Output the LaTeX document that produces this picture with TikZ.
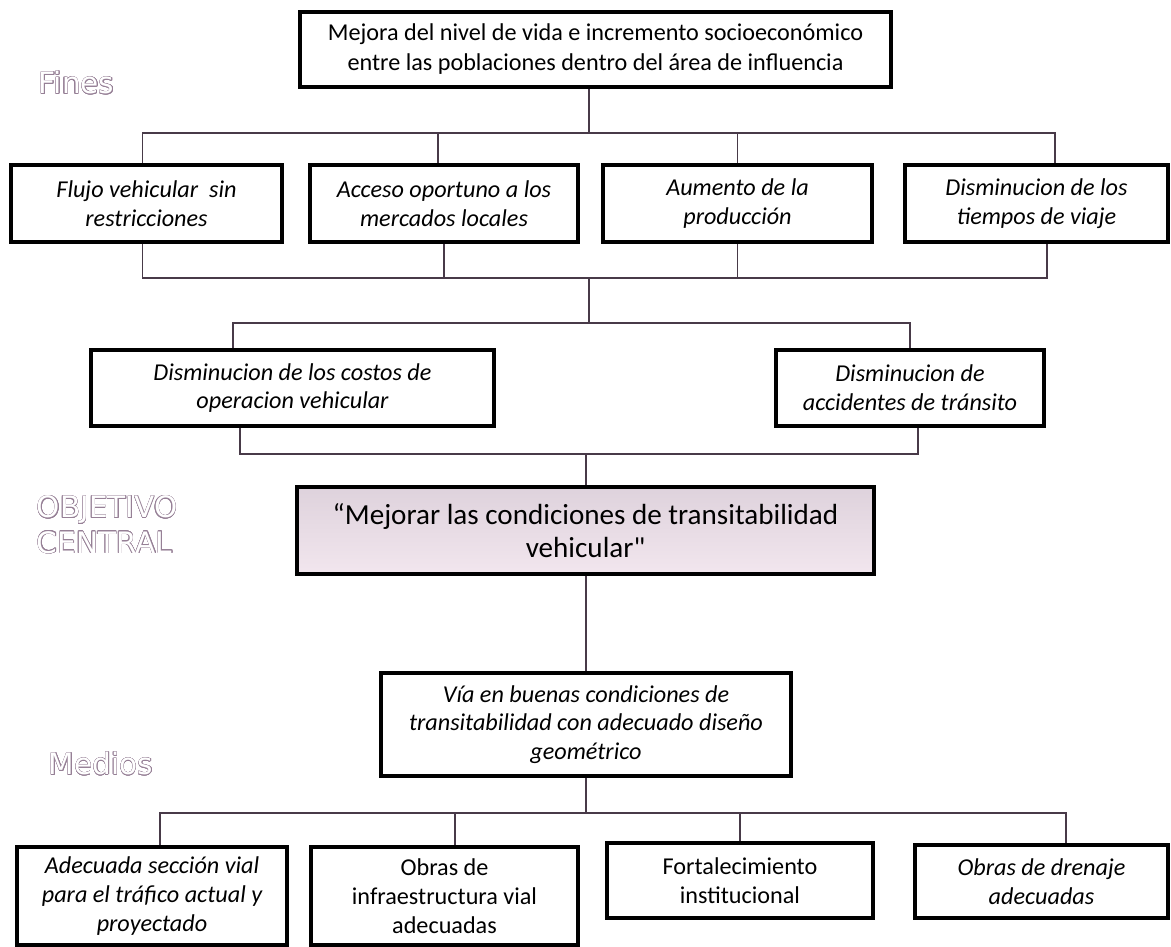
\documentclass[tikz,border=0pt]{standalone}
\usepackage{fontspec}
\setmainfont{Carlito}
\newfontfamily\goalfont{Carlito}[Ligatures=TeXOff]
\newfontfamily\tagfont{DejaVu Sans}
\usepackage{contour}
\usetikzlibrary{positioning, calc}
\usepackage{xcolor}

\definecolor{linkgray}{RGB}{72,58,72}
\definecolor{taggray}{RGB}{150,128,150}
\definecolor{goaltop}{RGB}{222,210,220}
\definecolor{goalbot}{RGB}{242,230,238}
\contourlength{0.3pt}
\newcommand{\tagtext}[1]{\contour{taggray}{\textcolor{white}{#1}}}

\begin{document}
\begin{tikzpicture}[
    x=0.025cm, y=-0.025cm,
    box/.style={rectangle, draw, line width=2.6pt, minimum width=6.7cm,
                minimum height=1.925cm, align=center, inner sep=2pt,
                font=\fontsize{17.2}{20.4}\selectfont\itshape},
    upright/.style={font=\fontsize{17.2}{20.4}\selectfont},
    link/.style={draw=linkgray, line width=1.1pt},
    tag/.style={font=\fontsize{21}{25}\selectfont\tagfont, align=left, anchor=west}
]
\useasboundingbox (0,0) rectangle (1171,947);

% --- Grid Coordinates ---
% Columns of the four-box rows
\def\cO{146.5}
\def\cI{444}
\def\cII{737.5}
\def\cIII{1036.5}

% Rows
\def\rO{49.5}   % Top goal
\def\rI{203.5}  % Fines
\def\rII{388}   % Second fines
\def\rIII{530.5} % Central objective
\def\rIV{724.5} % Main means
\def\rV{896}    % Means

% --- Side Tags ---
\node[tag] (fines)  at (34, 83)  {\tagtext{Fines}};
\node[tag] (objtag) at (32, 525) {\tagtext{OBJETIVO}\\\tagtext{CENTRAL}};
\node[tag] (medios) at (44, 764) {\tagtext{Medios}};

% --- Top Row ---
\node[box, upright, font=\fontsize{17.2}{21.3}\selectfont, minimum width=14.78cm, minimum height=1.875cm] (top) at (595.5, \rO)
    {Mejora del nivel de vida e incremento socioeconómico\\entre las poblaciones dentro del área de influencia};

% --- Fines ---
\node[box, minimum width=6.78cm] (b1) at (\cO, \rI)   {Flujo vehicular\ \ sin\\restricciones};
\node[box] (b2) at (\cI, \rI)   {Acceso oportuno a los\\mercados locales};
\node[box, minimum width=6.72cm] (b3) at (\cII, \rI)  {Aumento de la\\producción};
\node[box, minimum width=6.58cm] (b4) at (\cIII, \rI) {Disminucion de los\\tiempos de viaje};

\node[box, minimum width=10.08cm, minimum height=1.9cm] (c1) at (292.5, \rII) {Disminucion de los costos de\\operacion vehicular};
\node[box, minimum height=1.9cm] (c2) at (910, \rII) {Disminucion de\\accidentes de tránsito};

% --- Central Objective ---
\node[box, font=\fontsize{20.7}{24}\goalfont, top color=goaltop, bottom color=goalbot,
      minimum width=14.43cm, minimum height=2.18cm] (goal) at (585.5, \rIII)
    {“Mejorar las condiciones de transitabilidad\\vehicular"};

% --- Means ---
\node[box, minimum width=10.25cm, minimum height=2.58cm] (medio) at (586, \rIV)
    {Vía en buenas condiciones de\\transitabilidad con adecuado diseño\\geométrico};

\node[box, minimum width=6.75cm, minimum height=2.45cm] (d1) at (152, \rV)
    {Adecuada sección vial\\para el tráfico actual y\\proyectado};
\node[box, upright, minimum width=6.68cm, minimum height=2.45cm] (d2) at (444.5, \rV)
    {Obras de\\infraestructura vial\\adecuadas};
\node[box, upright, minimum width=6.65cm, minimum height=1.875cm] (d3) at (740, 880.5)
    {Fortalecimiento\\institucional};
\node[box, minimum width=6.33cm, minimum height=1.825cm] (d4) at (1041.5, 881.5)
    {Obras de drenaje\\adecuadas};

% --- Connectors ---
\coordinate (jTop) at (589, 133);
\coordinate (jFin) at (589, 278);
\coordinate (jMid) at (589, 323);
\coordinate (jLow) at (586, 454);
\coordinate (jBot) at (586, 813);

% Top goal to fines
\draw[link] (top.south -| jTop) -- (jTop);
\draw[link] ([xshift=-0.1cm]b1.north) |- (jTop);
\draw[link] ([xshift=0.46cm]b4.north) |- (jTop);
\draw[link] ([xshift=-0.15cm]b2.north) -- ([xshift=-0.15cm]b2.north |- jTop);
\draw[link] (b3.north) -- (b3.north |- jTop);

% Fines to lower bar
\draw[link] ([xshift=-0.1cm]b1.south) |- (jFin);
\draw[link] ([xshift=0.26cm]b4.south) |- (jFin);
\draw[link] (b2.south) -- (b2.south |- jFin);
\draw[link] (b3.south) -- (b3.south |- jFin);
\draw[link] (jFin) -- (jMid);

% Second fines
\draw[link] ([xshift=-1.49cm]c1.north) |- (jMid);
\draw[link] (c2.north) |- (jMid);
\draw[link] ([xshift=-1.31cm]c1.south) |- (jLow);
\draw[link] ([xshift=0.2cm]c2.south) |- (jLow);
\draw[link] (jLow) -- (goal.north -| jLow);

% Objective to means
\draw[link] (goal.south -| jLow) -- (medio.north);
\draw[link] (medio.south) -- (jBot);
\draw[link] ([xshift=0.2cm]d1.north) |- (jBot);
\draw[link] ([xshift=0.61cm]d4.north) |- (jBot);
\draw[link] ([xshift=0.26cm]d2.north) -- ([xshift=0.26cm]d2.north |- jBot);
\draw[link] (d3.north) -- (d3.north |- jBot);

\end{tikzpicture}
\end{document}
